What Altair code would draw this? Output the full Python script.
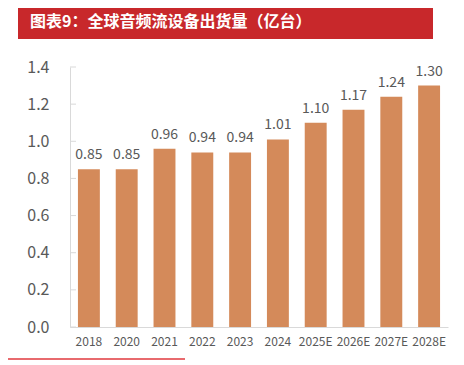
import altair as alt
import pandas as pd

years = ["2018", "2020", "2021", "2022", "2023", "2024", "2025E", "2026E", "2027E", "2028E"]
shipments = [0.85, 0.85, 0.96, 0.94, 0.94, 1.01, 1.10, 1.17, 1.24, 1.30]
y_ticks = [0.0, 0.2, 0.4, 0.6, 0.8, 1.0, 1.2, 1.4]
title_text = "图表9：全球音频流设备出货量（亿台）"

df = pd.DataFrame({"year": years, "value": shipments})
df["label"] = [f"{v:.2f}" for v in shipments]
ticks_df = pd.DataFrame({"t": y_ticks})

FONT = "Noto Sans CJK SC"
GRAY = "#595959"
AXIS_GRAY = "#d9d9d9"
BAR = "#D48A5A"
RED = "#C8282B"

x_axis = alt.Axis(labelAngle=0, labelFont=FONT, labelFontSize=12,
                  labelColor=GRAY, ticks=False, labelPadding=9,
                  labelOverlap=False, domainColor=AXIS_GRAY, domainWidth=1)
y_axis = alt.Axis(values=y_ticks, format=".1f", labelFont=FONT,
                  labelFontSize=16, labelColor=GRAY, ticks=False,
                  labelOverlap=False, labelBound=False,
                  labelPadding=21, grid=False, domainColor=AXIS_GRAY,
                  domainWidth=1)
x_scale = alt.Scale(paddingInner=0.42, paddingOuter=0.21)
y_scale = alt.Scale(domain=[0, 1.4], nice=False)

bars = alt.Chart(df).mark_bar(color=BAR).encode(
    x=alt.X("year:N", sort=years, title=None, scale=x_scale, axis=x_axis),
    y=alt.Y("value:Q", title=None, scale=y_scale, axis=y_axis))

labels = alt.Chart(df).mark_text(font=FONT, fontSize=14, color=GRAY,
                                 baseline="bottom", dy=-7).encode(
    x=alt.X("year:N", sort=years, title=None, scale=x_scale, axis=x_axis),
    y=alt.Y("value:Q", title=None, scale=y_scale, axis=y_axis),
    text="label:N")

yticks = alt.Chart(ticks_df).mark_rule(color=AXIS_GRAY, strokeWidth=1).encode(
    x=alt.value(0), x2=alt.value(6),
    y=alt.Y("t:Q", title=None, scale=y_scale, axis=y_axis))

header = alt.Chart(pd.DataFrame({"a": [0]})).mark_rect(color=RED).encode(
    x=alt.value(-52), x2=alt.value(363), y=alt.value(-59), y2=alt.value(-28))

header_text = alt.Chart(pd.DataFrame({"a": [0]})).mark_text(
    text=title_text, font=FONT, fontSize=16, fontWeight="bold", color="white",
    align="left", baseline="middle").encode(x=alt.value(-40), y=alt.value(-45))

bottom_line = alt.Chart(pd.DataFrame({"a": [0]})).mark_rule(
    color="#E0393E", strokeWidth=1.5).encode(
    x=alt.value(-62), x2=alt.value(115), y=alt.value(292))

chart = alt.layer(header, header_text, bars, yticks, labels, bottom_line).properties(
    width=378, height=260,
    autosize=alt.AutoSizeParams(type="none"),
    padding={"left": 62, "top": 59, "right": 8, "bottom": 36},
).configure_view(stroke=None).resolve_scale(y="shared", x="shared")

chart.save("out.html", embed_options={"renderer": "svg", "actions": False})
